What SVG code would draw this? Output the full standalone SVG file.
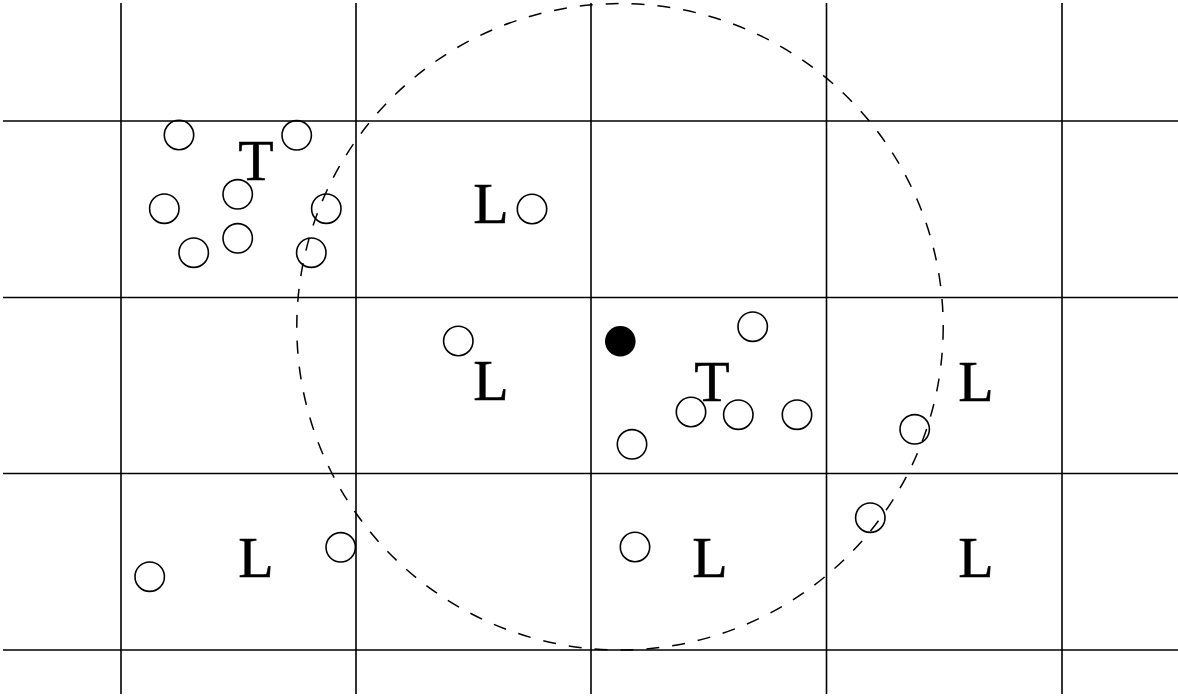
<svg xmlns="http://www.w3.org/2000/svg" width="1178" height="696" viewBox="0 0 1178 696">
<style>
.g{stroke:#000;stroke-width:1.6;fill:none}
.c{stroke:#000;stroke-width:1.6;fill:none}
.d{stroke:#000;stroke-width:1.5;fill:none;stroke-dasharray:13 13}
.t{font-family:"Liberation Serif","Times New Roman",serif;font-size:58px;fill:#000;stroke:#000;stroke-width:0.5;text-anchor:middle}
</style>
<rect width="1178" height="696" fill="#fff"/>
<g id="grid" class="g">
<line x1="121" y1="3" x2="121" y2="694"/>
<line x1="356" y1="3" x2="356" y2="694"/>
<line x1="591" y1="3" x2="591" y2="694"/>
<line x1="826.5" y1="3" x2="826.5" y2="694"/>
<line x1="1062" y1="3" x2="1062" y2="694"/>
<line x1="3" y1="121" x2="1178" y2="121"/>
<line x1="3" y1="297.5" x2="1178" y2="297.5"/>
<line x1="3" y1="473.5" x2="1178" y2="473.5"/>
<line x1="3" y1="650" x2="1178" y2="650"/>
</g>
<g id="range"><circle class="d" cx="620" cy="326.8" r="323.2"/></g>
<g id="points" class="c">
<circle cx="179" cy="135" r="14.7"/>
<circle cx="296.7" cy="135.3" r="14.7"/>
<circle cx="237.7" cy="194.3" r="14.7"/>
<circle cx="164.3" cy="208.7" r="14.7"/>
<circle cx="326.3" cy="208.7" r="14.7"/>
<circle cx="237.7" cy="238.3" r="14.7"/>
<circle cx="193.7" cy="252.7" r="14.7"/>
<circle cx="311.3" cy="252.7" r="14.7"/>
<circle cx="532" cy="209" r="14.7"/>
<circle cx="458.3" cy="341" r="14.7"/>
<circle cx="752.7" cy="326.7" r="14.7"/>
<circle cx="691" cy="412" r="14.7"/>
<circle cx="738.3" cy="414.7" r="14.7"/>
<circle cx="797" cy="414.7" r="14.7"/>
<circle cx="632" cy="444.3" r="14.7"/>
<circle cx="914.7" cy="429.3" r="14.7"/>
<circle cx="870.3" cy="517.7" r="14.7"/>
<circle cx="149.7" cy="576.7" r="14.7"/>
<circle cx="340.7" cy="547.3" r="14.7"/>
<circle cx="635" cy="547" r="14.7"/>
</g>
<g id="query"><circle cx="620.3" cy="341.3" r="15.3" fill="#000"/></g>
<g id="labels">
<text class="t" x="256" y="180">T</text>
<text class="t" x="491" y="223">L</text>
<text class="t" x="491" y="400">L</text>
<text class="t" x="712" y="401">T</text>
<text class="t" x="976" y="401">L</text>
<text class="t" x="256" y="577">L</text>
<text class="t" x="710" y="577">L</text>
<text class="t" x="976" y="577">L</text>
</g>
</svg>
